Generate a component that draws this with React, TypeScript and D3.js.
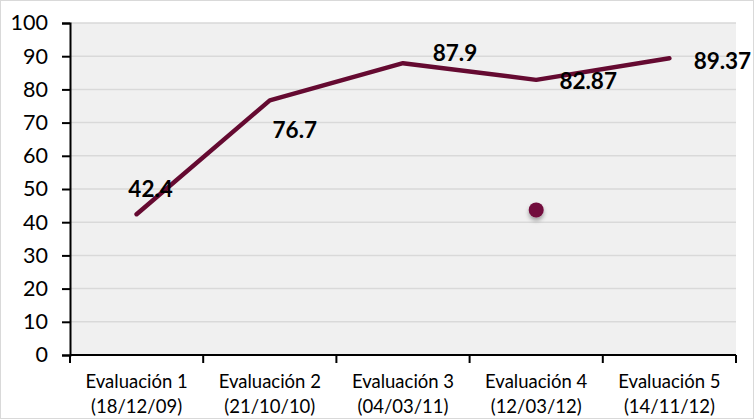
import React, { useEffect, useRef } from "react";
import * as d3 from "d3";

const categorias = ["Evaluación 1", "Evaluación 2", "Evaluación 3", "Evaluación 4", "Evaluación 5"];
const fechas = ["(18/12/09)", "(21/10/10)", "(04/03/11)", "(12/03/12)", "(14/11/12)"];
const puntajes = [42.4, 76.7, 87.9, 82.87, 89.37];
const etiquetas = ["42.4", "76.7", "87.9", "82.87", "89.37"];
// punto suelto de la segunda serie
const puntoCategoria = "Evaluación 4";
const puntoValor = 43.7;
const yTicks = [0, 10, 20, 30, 40, 50, 60, 70, 80, 90, 100];

// desplazamientos de las etiquetas respecto a cada punto (px)
const labelOffsets: [number, number][] = [
  [14, -26],
  [25, 29],
  [52, -11],
  [52, 1],
  [53, 2],
];

const W = 754;
const H = 419;
const COLOR = "#650a31";

export default function App() {
  const svgRef = useRef<SVGSVGElement>(null);

  useEffect(() => {
    const svg = d3.select(svgRef.current);
    svg.selectAll("*").remove();

    const left = 70, right = 736, top = 23, bottom = 355;

    const x = d3.scaleBand().domain(categorias).range([left, right]);
    const y = d3.scaleLinear().domain([0, 100]).range([bottom, top]);
    const cx = (c: string) => (x(c) || 0) + x.bandwidth() / 2;

    const defs = svg.append("defs");
    const f = defs.append("filter").attr("id", "sombra").attr("x", "-50%").attr("y", "-50%").attr("width", "200%").attr("height", "250%");
    f.append("feDropShadow").attr("dx", 0).attr("dy", 3).attr("stdDeviation", 2).attr("flood-color", "#000").attr("flood-opacity", 0.35);

    svg.append("rect").attr("x", 0.5).attr("y", 0.5).attr("width", W - 1).attr("height", H - 1)
      .attr("fill", "#fff").attr("stroke", "#d9d9d9");

    svg.append("rect").attr("x", left).attr("y", top).attr("width", right - left).attr("height", bottom - top)
      .attr("fill", "#f0f0f0");

    // rejilla
    svg.append("g").selectAll("line").data(yTicks.filter((t) => t > 0)).enter().append("line")
      .attr("x1", left).attr("x2", right)
      .attr("y1", (d) => y(d)).attr("y2", (d) => y(d))
      .attr("stroke", "#d9d9d9").attr("stroke-width", 1.5);

    // eje y
    const yAxis = svg.append("g").attr("transform", `translate(${left},0)`)
      .call(d3.axisLeft(y).tickValues(yTicks).tickSize(8).tickPadding(14));
    yAxis.select(".domain").attr("stroke", "#000").attr("stroke-width", 2);
    yAxis.selectAll(".tick line").attr("stroke", "#000").attr("stroke-width", 2);
    yAxis.selectAll("text").attr("font-family", "Lato, sans-serif").attr("font-size", 21.5).attr("fill", "#000");

    // eje x
    const xAxis = svg.append("g").attr("transform", `translate(0,${bottom})`);
    xAxis.append("line").attr("x1", left).attr("x2", right).attr("stroke", "#000").attr("stroke-width", 2);
    const bordes = categorias.map((c) => x(c) || 0).concat([right]);
    xAxis.selectAll("line.tk").data(bordes).enter().append("line").attr("class", "tk")
      .attr("x1", (d) => d).attr("x2", (d) => d).attr("y1", 0).attr("y2", 8)
      .attr("stroke", "#000").attr("stroke-width", 2);
    const xl = xAxis.selectAll("text.cat").data(categorias).enter().append("text").attr("class", "cat")
      .attr("x", (d) => cx(d)).attr("text-anchor", "middle")
      .attr("font-family", "Lato, sans-serif").attr("font-size", 18.5).attr("fill", "#000");
    xl.append("tspan").attr("x", (d) => cx(d)).attr("y", 33).text((d) => d);
    xl.append("tspan").attr("x", (d) => cx(d)).attr("y", 58).text((d, i) => fechas[i]);

    // línea
    const datos = categorias.map((c, i) => ({ c, v: puntajes[i] }));
    const linea = d3.line<{ c: string; v: number }>().x((d) => cx(d.c)).y((d) => y(d.v));
    svg.append("path").datum(datos).attr("d", linea).attr("fill", "none")
      .attr("stroke", COLOR).attr("stroke-width", 4.5).attr("stroke-linejoin", "round").attr("stroke-linecap", "round");

    // etiquetas
    svg.append("g").selectAll("text").data(datos).enter().append("text")
      .attr("x", (d, i) => cx(d.c) + labelOffsets[i][0])
      .attr("y", (d, i) => y(d.v) + labelOffsets[i][1])
      .attr("text-anchor", "middle").attr("dominant-baseline", "central")
      .attr("font-family", "Lato, sans-serif").attr("font-weight", "bold").attr("font-size", 22.5).attr("fill", "#000")
      .text((d, i) => etiquetas[i]);

    // punto suelto
    svg.append("circle").attr("cx", cx(puntoCategoria)).attr("cy", y(puntoValor)).attr("r", 7.5)
      .attr("fill", "#720b3e").attr("filter", "url(#sombra)");
  }, []);

  return (
    <svg ref={svgRef} width={W} height={H} style={{ position: "absolute", left: 0, top: 0 }} />
  );
}
